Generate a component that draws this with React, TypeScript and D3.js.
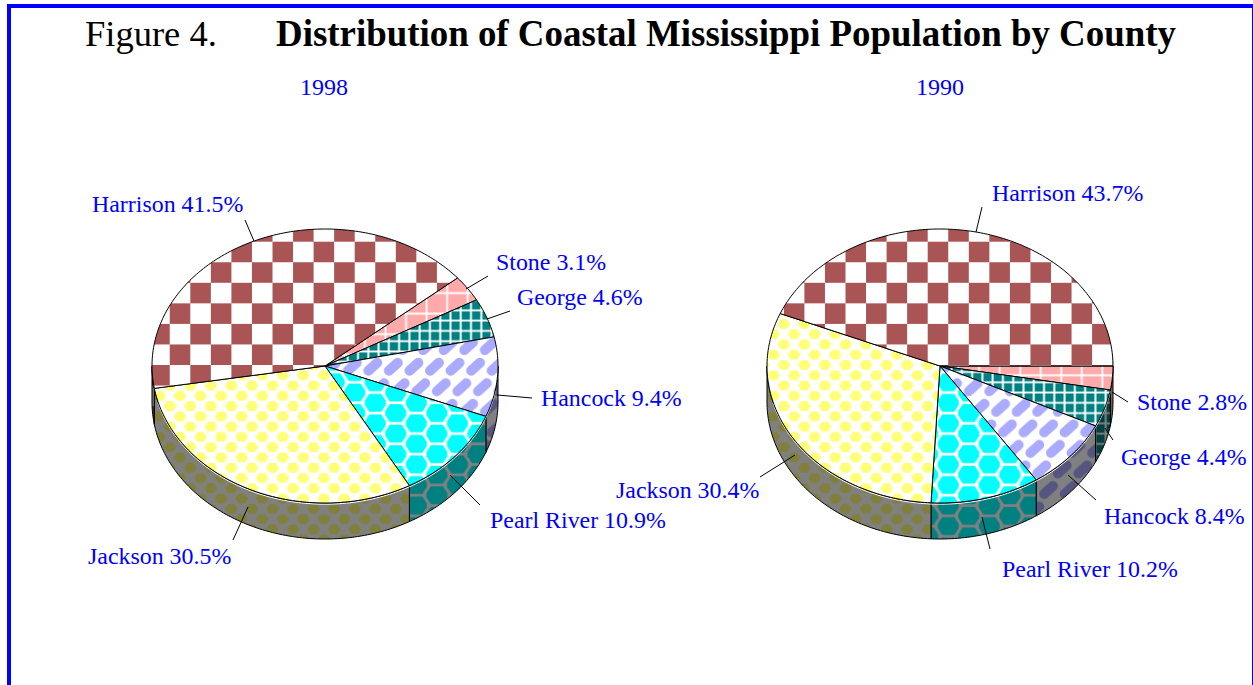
import React from "react";
import * as d3 from "d3";

// County shares of the coastal population, clockwise in drawing order.
const counties = ["Stone", "George", "Hancock", "Pearl River", "Jackson", "Harrison"];
const shares1998 = [3.1, 4.6, 9.4, 10.9, 30.5, 41.5];
const shares1990 = [2.8, 4.4, 8.4, 10.2, 30.4, 43.7];

// Label anchors [x, baseline] per county.
const labels1998 = [[496, 270], [517, 305], [541, 406], [490, 528], [88, 564], [92, 212]];
const labels1990 = [[1137, 410], [1121, 465], [1104, 524], [1002, 577], [616, 498], [992, 201]];

// Leader lines [x1, y1, x2, y2] per county.
const leaders1998 = [
  [488, 276, 466, 289], [510, 311, 487, 319], [532, 398, 497, 395],
  [480, 505, 450, 475], [233, 540, 248, 507], [245, 220, 254, 241],
];
const leaders1990 = [
  [1128, 402, 1112, 392], [1113, 440, 1105, 428], [1096, 500, 1068, 475],
  [990, 549, 982, 517], [760, 477, 795, 455], [982, 207, 976, 232],
];

const W = 1253;
const H = 685;
const RX = 173;
const RY = 137;
const DEPTH = 36;
const T = 20.55; // base tile size of the fill patterns

type Tone = { bg: string; fg: string };
const topTones: Tone[] = [
  { bg: "#ffaaaa", fg: "#ffffff" },
  { bg: "#008080", fg: "#ffffff" },
  { bg: "#ffffff", fg: "#aaaaff" },
  { bg: "#ffffff", fg: "#00ffff" },
  { bg: "#ffffff", fg: "#ffff77" },
  { bg: "#ffffff", fg: "#aa5555" },
];
const wallTones: Tone[] = [
  { bg: "#805555", fg: "#808080" },
  { bg: "#004040", fg: "#808080" },
  { bg: "#808080", fg: "#555580" },
  { bg: "#808080", fg: "#008080" },
  { bg: "#808080", fg: "#80803c" },
  { bg: "#808080", fg: "#552a2a" },
];

const pies = [
  { key: "a", year: "1998", yearX: 324, cx: 325, cy: 366, start: 50, shares: shares1998, labels: labels1998, leaders: leaders1998, ox: 313.6, oy: 241.7 },
  { key: "b", year: "1990", yearX: 940, cx: 940, cy: 366, start: 90, shares: shares1990, labels: labels1990, leaders: leaders1990, ox: 927.7, oy: 241.7 },
];

const rad = (d: number) => (d * Math.PI) / 180;
const lineGen = d3.line<[number, number]>().x((d) => d[0]).y((d) => d[1]);

function rimPoints(cx: number, cy: number, a0: number, a1: number): [number, number][] {
  const n = Math.max(2, Math.ceil((a1 - a0) / 0.02));
  const toAngle = d3.scaleLinear().domain([0, n]).range([a0, a1]);
  return d3.range(n + 1).map((i) => {
    const a = toAngle(i);
    return [cx + RX * Math.sin(a), cy - RY * Math.cos(a)] as [number, number];
  });
}

// Stretched octagonal cell for the Pearl River net.
function cellPoints(x: number, y: number): string {
  const w = 10.5;
  const f = 6;
  const h = 9;
  const s = 2;
  return [
    [x - w, y - s], [x - f, y - h], [x + f, y - h], [x + w, y - s],
    [x + w, y + s], [x + f, y + h], [x - f, y + h], [x - w, y + s],
  ]
    .map((p) => p.join(","))
    .join(" ");
}

// One tile for each county's hatch, in either the lit or the shaded tone.
function CountyPattern({ id, index, tone, ox, oy }: { id: string; index: number; tone: Tone; ox: number; oy: number }) {
  const offsets = [-1, 0, 1, 2];
  const base = { id, patternUnits: "userSpaceOnUse", x: ox, y: oy } as const;
  const bg = (w: number, h: number) => <rect width={w} height={h} fill={tone.bg} />;
  if (index === 0) {
    return (
      <pattern {...base} width={T} height={T}>
        {bg(T, T)}
        <path d={`M${T / 2},0V${T}M0,${T / 2}H${T}`} stroke={tone.fg} strokeWidth={1.8} />
      </pattern>
    );
  }
  if (index === 1) {
    const s = T / 2;
    return (
      <pattern {...base} width={s} height={s}>
        {bg(s, s)}
        <path d={`M3.3,0V${s}M0,7H${s}`} stroke={tone.fg} strokeWidth={2} />
      </pattern>
    );
  }
  if (index === 2) {
    // Slanted bricks: each row slides a third of a tile against the one above.
    const size = 3 * T;
    const rows = d3.range(-1, 5);
    const cols = d3.range(-3, 5);
    return (
      <pattern {...base} width={size} height={size}>
        {bg(size, size)}
        {rows.map((row) =>
          cols.map((col) => {
            const x = col * T + 18.1 + (row * T) / 3;
            const y = row * T + 1.7;
            return (
              <line
                key={`${row}-${col}`}
                x1={x - 4.4}
                y1={y + 4}
                x2={x + 4.4}
                y2={y - 4}
                stroke={tone.fg}
                strokeWidth={10}
                strokeLinecap="round"
              />
            );
          }),
        )}
      </pattern>
    );
  }
  if (index === 3) {
    const w = 2 * T;
    const h = T;
    const cells: [number, number][] = [];
    offsets.forEach((i) => offsets.forEach((j) => {
      cells.push([i * w, j * h + 7], [i * w + T, j * h + T / 2 + 7]);
    }));
    return (
      <pattern {...base} width={w} height={h}>
        {bg(w, h)}
        {cells.map(([x, y], k) => <polygon key={k} points={cellPoints(x, y)} fill={tone.fg} />)}
      </pattern>
    );
  }
  if (index === 4) {
    const blobs: [number, number][] = [];
    offsets.forEach((i) => offsets.forEach((j) => {
      blobs.push([i * T, j * T], [i * T + T / 2, j * T + T / 2]);
    }));
    return (
      <pattern {...base} width={T} height={T}>
        {bg(T, T)}
        {blobs.map(([x, y], k) => (
          <polygon key={k} points={`${x - 6.4},${y} ${x - 3.2},${y - 5} ${x + 3.2},${y - 5} ${x + 6.4},${y} ${x + 3.2},${y + 5} ${x - 3.2},${y + 5}`} fill={tone.fg} />
        ))}
      </pattern>
    );
  }
  return (
    <pattern {...base} width={2 * T} height={2 * T}>
      {bg(2 * T, 2 * T)}
      <rect x={0} y={0} width={T} height={T} fill={tone.fg} />
      <rect x={T} y={T} width={T} height={T} fill={tone.fg} />
    </pattern>
  );
}

function Pie3D({ pie }: { pie: (typeof pies)[number] }) {
  const { key, cx, cy, start, shares, ox, oy } = pie;
  const arcs = d3.pie<number>().sort(null).startAngle(rad(start)).endAngle(rad(start + 360))(shares);
  const low = rad(90);
  const high = rad(270);
  return (
    <g>
      <defs>
        {counties.map((_, i) => (
          <React.Fragment key={i}>
            <CountyPattern id={`top-${key}-${i}`} index={i} tone={topTones[i]} ox={ox} oy={oy} />
            <CountyPattern id={`wall-${key}-${i}`} index={i} tone={wallTones[i]} ox={ox} oy={oy} />
          </React.Fragment>
        ))}
      </defs>
      {arcs.map((a, i) => {
        const a0 = Math.max(a.startAngle, low);
        const a1 = Math.min(a.endAngle, high);
        if (a1 <= a0) return null;
        const upper = rimPoints(cx, cy, a0, a1);
        const lower = rimPoints(cx, cy + DEPTH, a0, a1).reverse();
        return (
          <path key={i} d={lineGen([...upper, ...lower]) + "Z"} fill={`url(#wall-${key}-${i})`} stroke="#000" strokeWidth={1} />
        );
      })}
      {/* Pale seam just under the lit rim */}
      <path d={lineGen(rimPoints(cx, cy + 1.2, rad(100), rad(255))) ?? ""} fill="none" stroke="#fff" strokeWidth={1} />
      {arcs.map((a, i) => {
        const rim = rimPoints(cx, cy, a.startAngle, a.endAngle);
        return (
          <path key={i} d={lineGen([[cx, cy], ...rim]) + "Z"} fill={`url(#top-${key}-${i})`} stroke="#000" strokeWidth={1} strokeLinejoin="round" />
        );
      })}
      {pie.leaders.map((l, i) => (
        <line key={i} x1={l[0]} y1={l[1]} x2={l[2]} y2={l[3]} stroke="#000" strokeWidth={1} />
      ))}
      <text x={pie.yearX} y={95} textAnchor="middle" fontSize={24} fill="#0000ff">{pie.year}</text>
      {counties.map((c, i) => (
        <text key={c} x={pie.labels[i][0]} y={pie.labels[i][1]} fontSize={23.9} fill="#0000ff">
          {`${c} ${shares[i].toFixed(1)}%`}
        </text>
      ))}
    </g>
  );
}

export default function App() {
  return (
    <svg
      width={W}
      height={H}
      style={{ position: "absolute", left: 0, top: 0, display: "block", background: "#fff", fontFamily: "'Liberation Serif', serif" }}
    >
      <rect x={9} y={6} width={1245} height={800} fill="none" stroke="#0000ff" strokeWidth={4} />
      <text x={85} y={46} fontSize={36.5} fill="#000">Figure 4.</text>
      <text x={276} y={46} fontSize={36.9} fontWeight="bold" fill="#000">Distribution of Coastal Mississippi Population by County</text>
      {pies.map((p) => <Pie3D key={p.key} pie={p} />)}
    </svg>
  );
}
